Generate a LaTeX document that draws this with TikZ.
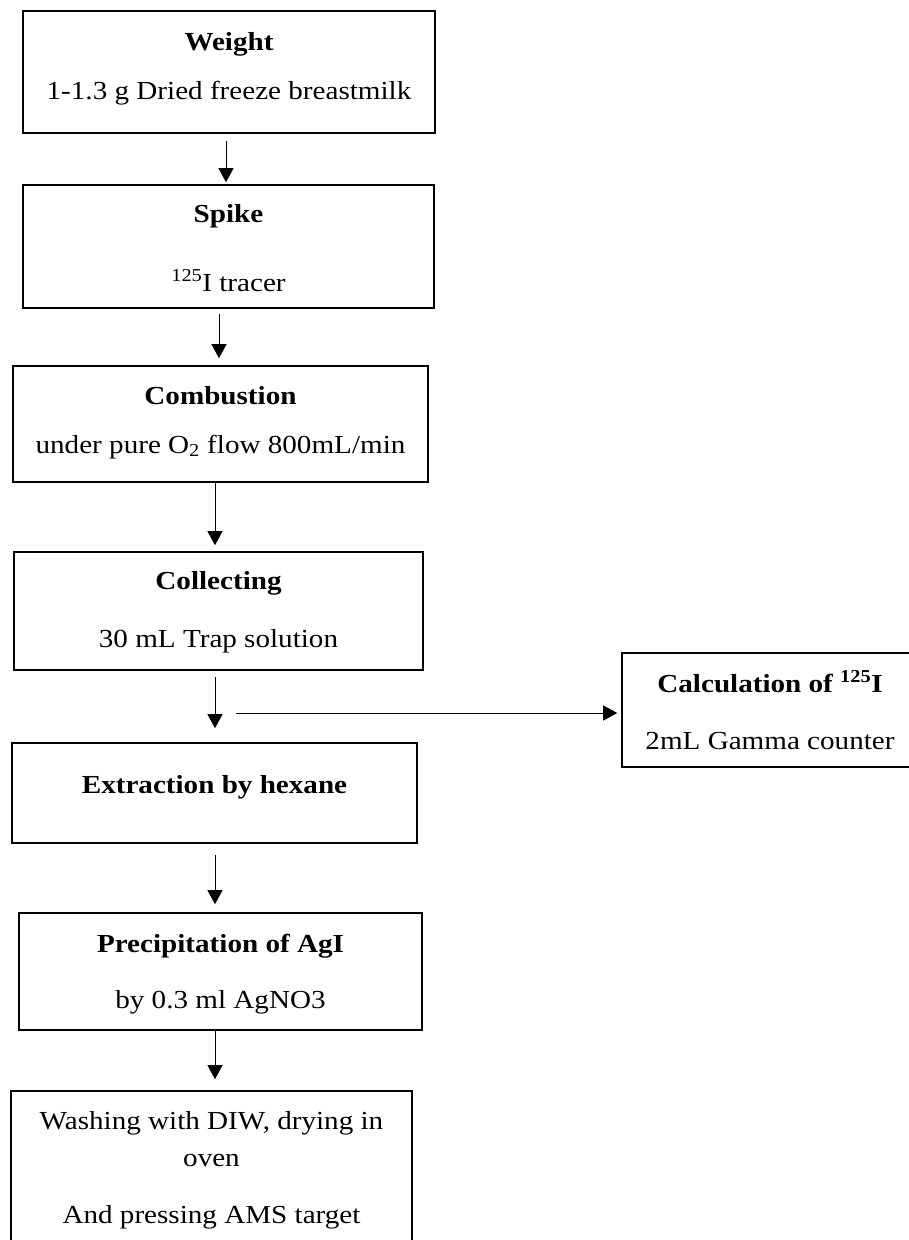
\documentclass[tikz,border=0pt]{standalone}
\usepackage{fontspec}
\setmainfont[FakeStretch=1.12]{Liberation Serif}
\usetikzlibrary{arrows.meta}
\begin{document}
\begin{tikzpicture}[x=1pt,y=-1pt,
  box/.style={draw, line width=1.6pt, inner sep=0pt},
  txt/.style={anchor=base, inner sep=0pt, font=\fontsize{26}{30}\selectfont},
  ttl/.style={txt, font=\fontsize{26}{30}\selectfont\bfseries},
  arr/.style={line width=1pt, -{Triangle[length=14pt,width=15pt]}}]
\useasboundingbox (0,0) rectangle (908,1240);
% boxes
\node[box, minimum width=412pt, minimum height=122pt] (w) at (229,72) {};
\node[box, minimum width=411pt, minimum height=123pt] (s) at (228.5,246.5) {};
\node[box, minimum width=415pt, minimum height=116pt] (c) at (220.5,424) {};
\node[box, minimum width=409pt, minimum height=118pt] (col) at (218.5,611) {};
\node[box, minimum width=296pt, minimum height=114pt] (calc) at (770,710) {};
\node[box, minimum width=405pt, minimum height=100pt] (ext) at (214.5,793) {};
\node[box, minimum width=403pt, minimum height=117pt] (p) at (220.5,971.5) {};
\node[box, minimum width=401pt, minimum height=159pt] (wash) at (211.5,1170.5) {};
% texts
\node[ttl] (wt) at (229,50) {Weight};
\node[txt] (wb) at (229,99) {1-1.3 g Dried freeze breastmilk};
\node[ttl] (st) at (228.5,222) {Spike};
\node[txt] (sb) at (228.5,291) {\textsuperscript{125}I tracer};
\node[ttl] (ct) at (220.5,404) {Combustion};
\node[txt] (cb) at (220.5,453) {under pure O\textsubscript{2} flow 800mL/min};
\node[ttl] (colt) at (218.5,589) {Collecting};
\node[txt] (colb) at (218.5,647) {30 mL Trap solution};
\node[ttl] (calct) at (770,692) {Calculation of \textsuperscript{125}I};
\node[txt] (calcb) at (770,749) {2mL Gamma counter};
\node[ttl] (extt) at (214.5,793) {Extraction by hexane};
\node[ttl] (pt) at (220.5,952) {Precipitation of AgI};
\node[txt] (pb) at (220.5,1008) {by 0.3 ml AgNO3};
\node[txt] (wa1) at (211.5,1129) {Washing with DIW, drying in};
\node[txt] (wa2) at (211.5,1166) {oven};
\node[txt] (wa3) at (211.5,1223) {And pressing AMS target};
% arrow lines
\coordinate (x1) at (226,0);
\coordinate (x2) at (219,0);
\coordinate (x3) at (215,0);
\coordinate (hs) at (236,713);
\draw[arr, shorten <=7pt, shorten >=2pt] (w.south -| x1) -- (s.north -| x1);
\draw[arr, shorten <=5pt, shorten >=7pt] (s.south -| x2) -- (c.north -| x2);
\draw[arr, shorten >=6pt] (c.south -| x3) -- (col.north -| x3);
\draw[arr, shorten <=6pt, shorten >=14pt] (col.south -| x3) -- (ext.north -| x3);
\draw[arr, shorten <=11pt, shorten >=8pt] (ext.south -| x3) -- (p.north -| x3);
\draw[arr, shorten >=11pt] (p.south -| x3) -- (wash.north -| x3);
\draw[arr, shorten >=4pt] (hs) -- (hs -| calc.west);
\end{tikzpicture}
\end{document}
